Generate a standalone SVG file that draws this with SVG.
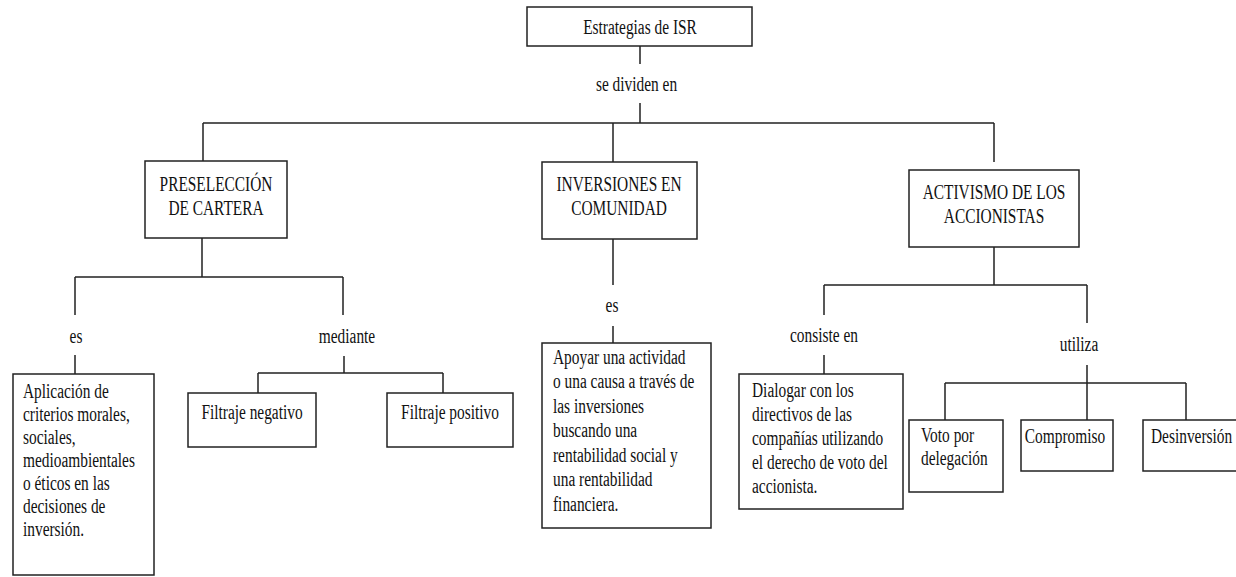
<svg xmlns="http://www.w3.org/2000/svg" width="1236" height="577" viewBox="0 0 1236 577">
<style>
.box{fill:#fff;stroke:#222;stroke-width:1.5}
.ln{stroke:#222;stroke-width:1.5;fill:none}
text{font-family:"Liberation Serif","Times New Roman",serif;font-size:20px;fill:#111}
.c{text-anchor:middle}
</style>
<rect width="1236" height="577" fill="#fff"/>
<g id="connectors">
<path class="ln" d="M640,46V64 M640,103V123 M203,123H994 M203,123V161 M613,123V162 M994,123V162"/>
<path class="ln" d="M202,238V277 M75,277H343 M75,277V315 M343,277V315 M75,355V374 M344,356V373 M258,373H443 M258,373V393 M443,373V393"/>
<path class="ln" d="M613,239V285 M613,326V343"/>
<path class="ln" d="M994,247V285 M824,285H1087 M824,285V315 M1087,285V323 M824,355V374 M1087,365V420 M945,383H1186 M945,383V420 M1186,383V420"/>
</g>
<g id="labels">
<text class="c" transform="translate(636.5,91) scale(0.77,1)">se dividen en</text>
<text class="c" transform="translate(76,343) scale(0.77,1)">es</text>
<text class="c" transform="translate(347,343) scale(0.77,1)">mediante</text>
<text class="c" transform="translate(612,312) scale(0.77,1)">es</text>
<text class="c" transform="translate(824,342) scale(0.77,1)">consiste en</text>
<text class="c" transform="translate(1079,351) scale(0.77,1)">utiliza</text>
</g>
<g id="n-estrategias">
<rect class="box" x="527" y="7" width="225" height="39"/>
<text class="c" transform="translate(640,34) scale(0.77,1)">Estrategias de ISR</text>
</g>
<g id="n-preseleccion">
<rect class="box" x="145" y="161" width="142" height="77"/>
<text class="c" transform="translate(216,191) scale(0.77,1)"><tspan x="0">PRESELECCIÓN</tspan><tspan x="0" dy="24">DE CARTERA</tspan></text>
</g>
<g id="n-inversiones">
<rect class="box" x="542" y="162" width="155" height="77"/>
<text class="c" transform="translate(619,191) scale(0.77,1)"><tspan x="0">INVERSIONES EN</tspan><tspan x="0" dy="24">COMUNIDAD</tspan></text>
</g>
<g id="n-activismo">
<rect class="box" x="909" y="170" width="170" height="77"/>
<text class="c" transform="translate(994,199) scale(0.77,1)"><tspan x="0">ACTIVISMO DE LOS</tspan><tspan x="0" dy="24">ACCIONISTAS</tspan></text>
</g>
<g id="n-aplicacion">
<rect class="box" x="13" y="374" width="141" height="201"/>
<text transform="translate(23,398) scale(0.77,1)"><tspan x="0">Aplicación de</tspan><tspan x="0" dy="23">criterios morales,</tspan><tspan x="0" dy="23">sociales,</tspan><tspan x="0" dy="23">medioambientales</tspan><tspan x="0" dy="23">o éticos en las</tspan><tspan x="0" dy="23">decisiones de</tspan><tspan x="0" dy="23">inversión.</tspan></text>
</g>
<g id="n-filtraje-neg">
<rect class="box" x="188" y="393" width="128" height="54"/>
<text class="c" transform="translate(252,419) scale(0.77,1)">Filtraje negativo</text>
</g>
<g id="n-filtraje-pos">
<rect class="box" x="387" y="393" width="126" height="54"/>
<text class="c" transform="translate(450,419) scale(0.77,1)">Filtraje positivo</text>
</g>
<g id="n-apoyar">
<rect class="box" x="542" y="343" width="169" height="185"/>
<text transform="translate(553,364) scale(0.77,1)"><tspan x="0">Apoyar una actividad</tspan><tspan x="0" dy="24.5">o una causa a través de</tspan><tspan x="0" dy="24.5">las inversiones</tspan><tspan x="0" dy="24.5">buscando una</tspan><tspan x="0" dy="24.5">rentabilidad social y</tspan><tspan x="0" dy="24.5">una rentabilidad</tspan><tspan x="0" dy="24.5">financiera.</tspan></text>
</g>
<g id="n-dialogar">
<rect class="box" x="739" y="374" width="164" height="135"/>
<text transform="translate(752,397) scale(0.77,1)"><tspan x="0">Dialogar con los</tspan><tspan x="0" dy="24">directivos de las</tspan><tspan x="0" dy="24">compañías utilizando</tspan><tspan x="0" dy="24">el derecho de voto del</tspan><tspan x="0" dy="24">accionista.</tspan></text>
</g>
<g id="n-voto">
<rect class="box" x="909" y="420" width="94" height="72"/>
<text transform="translate(921,442) scale(0.77,1)"><tspan x="0">Voto por</tspan><tspan x="0" dy="23">delegación</tspan></text>
</g>
<g id="n-compromiso">
<rect class="box" x="1021" y="420" width="92" height="51"/>
<text class="c" transform="translate(1065,443) scale(0.77,1)">Compromiso</text>
</g>
<g id="n-desinversion">
<rect class="box" x="1143" y="420" width="100" height="51"/>
<text transform="translate(1151,443) scale(0.77,1)">Desinversión</text>
</g>
</svg>
